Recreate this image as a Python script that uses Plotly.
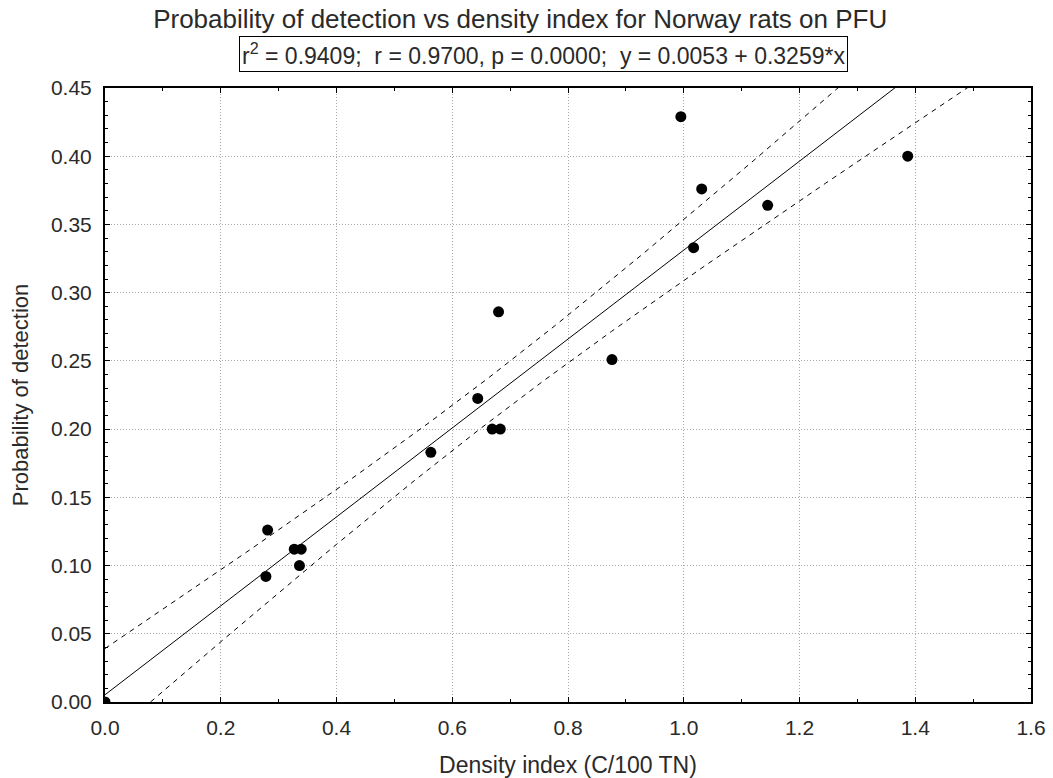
import numpy as np
import plotly.graph_objects as go

# Density index (C/100 TN) and probability of detection per site
density = [0.0, 0.278, 0.281, 0.327, 0.339, 0.336, 0.563, 0.644, 0.669, 0.683,
           0.680, 0.876, 0.995, 1.031, 1.017, 1.145, 1.387]
prob = [0.0, 0.092, 0.126, 0.112, 0.112, 0.100, 0.183, 0.2225, 0.200, 0.200,
        0.286, 0.251, 0.429, 0.376, 0.333, 0.364, 0.400]

# Reported fit statistics: y = a + b*x, coefficient of determination
intercept = 0.0053
slope = 0.3259
r_squared = 0.9409
t_crit = 2.131  # Student t, 0.975 quantile, 15 df

x = np.array(density)
y = np.array(prob)
n = len(x)
xbar = x.mean()
sxx = np.sum((x - xbar) ** 2)
syy = np.sum((y - y.mean()) ** 2)
# residual standard error implied by r^2
s = np.sqrt((1.0 - r_squared) * syy / (n - 2))

xs = np.linspace(0, 1.6, 321)
yfit = intercept + slope * xs
half = t_crit * s * np.sqrt(1.0 / n + (xs - xbar) ** 2 / sxx)

font = "Liberation Sans, Arial, sans-serif"
txt = "#2a2a2a"

fig = go.Figure()
fig.add_trace(go.Scatter(x=xs, y=yfit + half, mode="lines",
                         line=dict(color="black", width=1, dash="5px,5px"),
                         hoverinfo="skip"))
fig.add_trace(go.Scatter(x=xs, y=yfit - half, mode="lines",
                         line=dict(color="black", width=1, dash="5px,5px"),
                         hoverinfo="skip"))
fig.add_trace(go.Scatter(x=xs, y=yfit, mode="lines",
                         line=dict(color="black", width=1)))
fig.add_trace(go.Scatter(x=density, y=prob, mode="markers", cliponaxis=True,
                         marker=dict(color="black", size=11)))

axis_common = dict(
    showline=True, linecolor="black", linewidth=2, mirror="ticks",
    ticks="inside", ticklen=5, tickcolor="black", tickwidth=1,
    showgrid=True, gridcolor="#a8a8a8", griddash="1px,2px", gridwidth=1,
    zeroline=False, automargin=False,
    tickfont=dict(family=font, size=21, color=txt),
)

fig.update_layout(
    width=1053, height=778,
    margin=dict(l=105, r=22, t=88, b=76),
    paper_bgcolor="white", plot_bgcolor="white",
    showlegend=False,
    title=dict(text="Probability of detection vs density index for Norway rats on PFU",
               x=0.494, xanchor="center", y=0.976, yanchor="middle",
               font=dict(family=font, size=26, color=txt)),
    xaxis=dict(range=[0, 1.6], dtick=0.2, tickformat=".1f", ticklabelstandoff=6,
               minor=dict(dtick=0.1, ticks="inside", ticklen=3, tickcolor="black", showgrid=False),
               title=dict(text="Density index (C/100 TN)", standoff=20,
                          font=dict(family=font, size=23, color=txt)),
               **axis_common),
    yaxis=dict(range=[0, 0.45], dtick=0.05, tickformat=".2f", ticklabelstandoff=7,
               minor=dict(dtick=0.01, ticks="inside", ticklen=3, tickcolor="black", showgrid=False),
               title=dict(text="Probability of detection", standoff=16,
                          font=dict(family=font, size=22, color=txt)),
               **axis_common),
    annotations=[dict(
        text="r<sup>2</sup> = 0.9409;  r = 0.9700, p = 0.0000;  y = 0.0053 + 0.3259*x",
        xref="paper", yref="paper", x=0.474, y=1.0, yshift=34,
        xanchor="center", yanchor="middle", showarrow=False,
        bordercolor="black", borderwidth=1, borderpad=2, bgcolor="white",
        font=dict(family=font, size=23, color=txt),
    )],
)

fig.write_html("out.html")
